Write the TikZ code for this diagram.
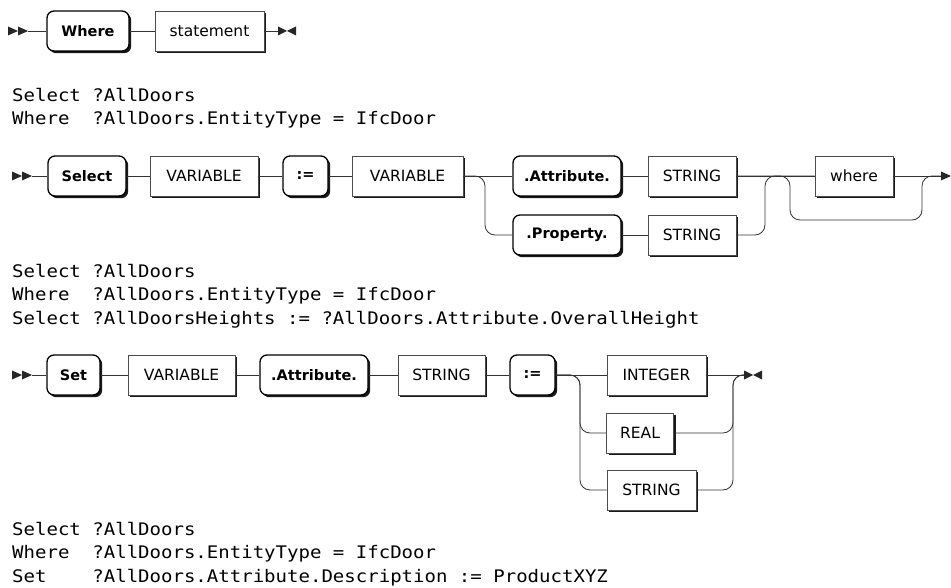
\documentclass[tikz,border=0pt]{standalone}
\usepackage{fontspec}
\setmainfont{DejaVu Sans}
\newfontfamily\codefont[FakeStretch=1.1]{DejaVu Sans Mono}
\usetikzlibrary{shadows}
\begin{document}
\begin{tikzpicture}[x=1pt,y=-1pt]
\tikzset{
  rr/.style={line width=0.8pt, draw=black!80},
  boxshadow/.style={drop shadow={shadow xshift=2.2pt, shadow yshift=-2.2pt, fill=black, opacity=0.9}},
  term/.style={draw=black, line width=1.3pt, rounded corners=7pt, fill=white, boxshadow,
    minimum height=40pt, inner sep=0pt, font=\fontsize{14.5}{18}\selectfont\bfseries},
  nonterm/.style={draw=black!70, line width=0.6pt, fill=white, boxshadow,
    minimum height=40pt, inner sep=0pt, font=\fontsize{15.5}{18}\selectfont},
  code/.style={anchor=base west, inner sep=0pt, font=\codefont\fontsize{17.3}{20}\selectfont},
  startmark/.pic={\fill[black!85] (0,-4.5) -- (10,0) -- (0,4.5) -- cycle;
                  \fill[black!85] (10,-4.5) -- (20,0) -- (10,4.5) -- cycle;},
  endmark/.pic={\fill[black!85] (0,-4.5) -- (9,0) -- (0,4.5) -- cycle;
                \fill[black!85] (18,-4.5) -- (9,0) -- (18,4.5) -- cycle;},
  arrowmark/.pic={\fill[black!85] (0,-4.5) -- (10,0) -- (0,4.5) -- cycle;}
}
\fill[white] (0,0) rectangle (951,588);
\useasboundingbox (0,0) rectangle (951,588);

% ---------------- Diagram 1 ----------------
\pic at (8,31) {startmark};
\coordinate (st1) at (28,31);
\node[term, minimum width=82pt] (where) at (88,31) {Where};
\node[nonterm, minimum width=109pt] (stmt) at (209.5,31) {statement};
\coordinate (e1) at (278,31);
\draw[rr] (st1) -- (where.west);
\draw[rr] (where) -- (stmt);
\draw[rr] (stmt.east) -- (e1);
\pic at (e1) {endmark};

% ---------------- Code 1 ----------------
\node[code] (c1a) at (12,102) {Select ?AllDoors};
\node[code] (c1b) at (12,125) {Where\ \ ?AllDoors.EntityType = IfcDoor};

% ---------------- Diagram 2 ----------------
\pic at (12,176) {startmark};
\coordinate (st2) at (32,176);
\node[term, minimum width=78pt] (sel) at (87,176) {Select};
\node[nonterm, minimum width=108pt] (var1) at (204,176) {VARIABLE};
\node[term, minimum width=45pt] (as1) at (305.5,176) {:=};
\node[nonterm, minimum width=111pt] (var2) at (407.5,176) {VARIABLE};
\node[term, minimum width=108pt] (attr1) at (567,176) {.Attribute.};
\node[nonterm, minimum width=88pt] (str1) at (692,176) {STRING};
\node[term, minimum width=108pt] (prop) at (567,235) {.Property.};
\node[nonterm, minimum width=88pt] (str2) at (692,235) {STRING};
\node[nonterm, minimum width=78pt] (wh) at (854,176) {where};
\coordinate (sp1) at (485,235);
\coordinate (jp) at (765,176);
\coordinate (bs) at (790,220);
\coordinate (bj) at (922,220);
\coordinate (e2) at (941,176);
\draw[rr] (st2) -- (sel.west);
\draw[rr] (sel) -- (var1);
\draw[rr] (var1) -- (as1);
\draw[rr] (as1) -- (var2);
\draw[rr] (var2) -- (attr1);
\draw[rr, rounded corners=10pt] (var2.east) -| (sp1) -- (prop.west);
\draw[rr] (attr1) -- (str1);
\draw[rr] (prop) -- (str2);
\draw[rr] (str1) -- (wh);
\draw[rr, rounded corners=10pt] (str2.east) -| (jp) -- (wh.west);
\draw[rr, rounded corners=10pt] (str1.east) -| (bs) -- (bj) |- (e2);
\draw[rr] (wh.east) -- (e2);
\pic at (e2) {arrowmark};

% ---------------- Code 2 ----------------
\node[code] (c2a) at (12,277) {Select ?AllDoors};
\node[code] (c2b) at (12,300.5) {Where\ \ ?AllDoors.EntityType = IfcDoor};
\node[code] (c2c) at (12,324) {Select ?AllDoorsHeights := ?AllDoors.Attribute.OverallHeight};

% ---------------- Diagram 3 ----------------
\pic at (12,375) {startmark};
\coordinate (st3) at (32,375);
\node[term, minimum width=53pt] (set) at (73.5,375) {Set};
\node[nonterm, minimum width=107pt] (var3) at (181.5,375) {VARIABLE};
\node[term, minimum width=108pt] (attr2) at (314,375) {.Attribute.};
\node[nonterm, minimum width=87pt] (str3) at (441.5,375) {STRING};
\node[term, minimum width=45pt] (as2) at (532.5,375) {:=};
\node[nonterm, minimum width=99pt] (int) at (656.5,375) {INTEGER};
\node[nonterm, minimum width=67pt] (real) at (640,433) {REAL};
\node[nonterm, minimum width=89pt] (str4) at (651.5,490) {STRING};
\coordinate (sp3a) at (580,433);
\coordinate (sp3b) at (580,490);
\coordinate (j3) at (733,375);
\coordinate (e3) at (744,375);
\draw[rr] (st3) -- (set.west);
\draw[rr] (set) -- (var3);
\draw[rr] (var3) -- (attr2);
\draw[rr] (attr2) -- (str3);
\draw[rr] (str3) -- (as2);
\draw[rr] (as2) -- (int);
\draw[rr, rounded corners=10pt] (as2.east) -| (sp3b) -- (str4.west);
\draw[rr, rounded corners=10pt] (as2.east) -| (sp3a) -- (real.west);
\draw[rr] (int.east) -- (e3);
\draw[rr, rounded corners=10pt] (real.east) -| (j3) -- (e3);
\draw[rr, rounded corners=10pt] (str4.east) -| (j3) -- (e3);
\pic at (e3) {endmark};

% ---------------- Code 3 ----------------
\node[code] (c3a) at (12,535) {Select ?AllDoors};
\node[code] (c3b) at (12,558.5) {Where\ \ ?AllDoors.EntityType = IfcDoor};
\node[code] (c3c) at (12,582) {Set\ \ \ \ ?AllDoors.Attribute.Description := ProductXYZ};
\end{tikzpicture}
\end{document}
